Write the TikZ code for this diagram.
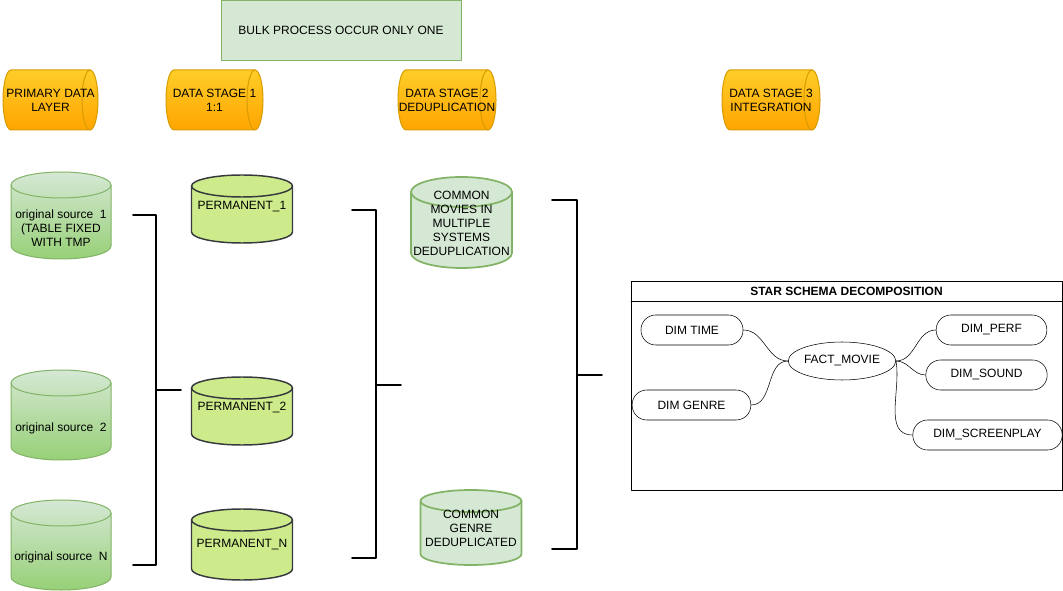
\documentclass[tikz,border=0pt]{standalone}
\usepackage{fontspec}
\setmainfont{Liberation Sans}
\usetikzlibrary{shapes.geometric,positioning}
\definecolor{hdrtop}{HTML}{FFCD28}
\definecolor{hdrbot}{HTML}{FFA500}
\definecolor{hdrline}{HTML}{D79B00}
\definecolor{grnlight}{HTML}{D5E8D4}
\definecolor{grndark}{HTML}{97D077}
\definecolor{grnline}{HTML}{82B366}
\definecolor{limefill}{HTML}{CDEB8B}
\definecolor{darkline}{HTML}{36393D}
% hình trụ đứng: thân, viền, tâm x, đỉnh, đáy, bán trục a, b
\newcommand{\cylv}[7]{%
	\path[#1] (#3-#6,#4+#7) -- (#3-#6,#5-#7) arc[start angle=180,end angle=360,x radius=#6*0.75pt,y radius=#7*0.75pt]
		-- (#3+#6,#4+#7) arc[start angle=0,end angle=180,x radius=#6*0.75pt,y radius=#7*0.75pt] -- cycle;
	\draw[#2] (#3-#6,#4+#7) arc[start angle=180,end angle=360,x radius=#6*0.75pt,y radius=#7*0.75pt];}
% hình trụ nằm: thân, viền, trái, phải, tâm y, bán trục h, rx
\newcommand{\cylh}[7]{%
	\path[#1] (#3+#7,#5-#6) arc[start angle=90,end angle=270,x radius=#7*0.75pt,y radius=#6*0.75pt]
		-- (#4-#7,#5+#6) arc[start angle=270,end angle=450,x radius=#7*0.75pt,y radius=#6*0.75pt] -- cycle;
	\draw[#2] (#4-#7,#5-#6) arc[start angle=90,end angle=270,x radius=#7*0.75pt,y radius=#6*0.75pt];}
\begin{document}
\begin{tikzpicture}[x=0.75pt,y=-0.75pt,line join=round,line cap=round,font=\fontsize{9}{10.5}\selectfont,
	hdrbody/.style={draw=hdrline,line width=0.75pt,top color=hdrtop,bottom color=hdrbot},
	hdredge/.style={draw=hdrline,line width=0.75pt},
	srcbody/.style={draw=grnline,line width=0.75pt,top color=grnlight,bottom color=grndark},
	srcedge/.style={draw=grnline,line width=0.75pt},
	permbody/.style={draw=darkline,line width=1.1pt,fill=limefill},
	permedge/.style={draw=darkline,line width=1.1pt},
	dedupbody/.style={draw=grnline,line width=1.3pt,fill=grnlight},
	dedupedge/.style={draw=grnline,line width=1.3pt},
	lbl/.style={align=center,inner sep=0pt},
	brk/.style={line width=1.3pt},
	pill/.style={draw,rounded corners=11pt,minimum height=22.5pt,inner sep=0pt},
	]
	\useasboundingbox (0,0) rectangle (1063,591);
	% === Tiêu đề ===
	\node[draw=grnline,fill=grnlight,minimum width=180pt,minimum height=45pt] (bulk) at (341,30) {BULK PROCESS OCCUR ONLY ONE};
	\cylh{hdrbody}{hdredge}{3}{98}{100}{30}{8}
	\cylh{hdrbody}{hdredge}{166}{263}{100}{30}{8}
	\cylh{hdrbody}{hdredge}{398}{496}{100}{30}{8}
	\cylh{hdrbody}{hdredge}{722}{820}{100}{30}{8}
	\node[lbl] (pdl) at (50.5,100) {PRIMARY DATA\\LAYER};
	\node[lbl] (ds1) at (214.5,100) {DATA STAGE 1\\1:1};
	\node[lbl] (ds2) at (447,100) {DATA STAGE 2\\DEDUPLICATION};
	\node[lbl] (ds3) at (771,100) {DATA STAGE 3\\INTEGRATION};
	% === Nguồn dữ liệu ===
	\cylv{srcbody}{srcedge}{61}{172}{259}{50}{13}
	\cylv{srcbody}{srcedge}{61}{370}{460}{50}{13}
	\cylv{srcbody}{srcedge}{61}{500}{590}{50}{13}
	\node[lbl] (src1) at (61,228) {original source\ \ 1\\(TABLE FIXED\\WITH TMP};
	\node[lbl] (src2) at (61,428) {original source\ \ 2};
	\node[lbl] (srcn) at (61,557) {original source\ \ N};
	% === Giai đoạn 1 và 2 ===
	\cylv{permbody}{permedge}{242}{175}{243}{50.5}{11}
	\cylv{permbody}{permedge}{242}{377}{445}{50.5}{11}
	\cylv{permbody}{permedge}{242}{509}{580}{50.5}{11}
	\node[lbl] (perm1) at (242,207) {PERMANENT\_1};
	\node[lbl] (perm2) at (242,408) {PERMANENT\_2};
	\node[lbl] (permn) at (242,545) {PERMANENT\_N};
	\cylv{dedupbody}{dedupedge}{461.5}{177}{268}{50.5}{15}
	\cylv{dedupbody}{dedupedge}{471}{490}{565}{50.5}{11}
	\node[lbl] (movies) at (461.5,223) {COMMON\\MOVIES IN\\MULTIPLE\\SYSTEMS\\DEDUPLICATION};
	\node[lbl] (genre) at (471,528) {COMMON\\GENRE\\DEDUPLICATED};
	% === Ngoặc gom nhóm ===
	\foreach \n/\xa/\xv/\xm/\ya/\yb/\ym in {1/133/156/181/215/565/390,2/352/376/401/210/558/385,3/552/577/602/200/549/375}{
		\coordinate (br\n top) at (\xa,\ya);
		\coordinate (br\n bot) at (\xa,\yb);
		\coordinate (br\n spine) at (\xv,\ym);
		\coordinate (br\n mid) at (\xm,\ym);
		\draw[brk] (br\n top) -| (br\n spine) |- (br\n bot);
		\draw[brk] (br\n spine) -- (br\n mid);
	}
	% === Lược đồ hình sao ===
	\node[draw,minimum width=323.25pt,minimum height=156.75pt,anchor=north west,inner sep=0pt] (star) at (631,281) {};
	\draw ([yshift=-15pt]star.north west) -- ([yshift=-15pt]star.north east);
	\node[font=\fontsize{9}{10.5}\selectfont\bfseries] (startitle) at (846.5,291) {STAR SCHEMA DECOMPOSITION};
	\node[draw,ellipse,minimum width=76.5pt,minimum height=28.5pt,inner sep=0pt] (fact) at (842,361) {FACT\_MOVIE};
	\node[pill,minimum width=76.5pt] (dtime) at (692,330) {DIM TIME};
	\node[pill,minimum width=89pt] (dgenre) at (691.5,405) {DIM GENRE};
	\node[pill,minimum width=83pt] (dperf) at (991.5,330) {DIM\_PERF};
	\node[pill,minimum width=91pt] (dsound) at (986.5,375) {DIM\_SOUND};
	\node[pill,minimum width=112pt] (dscreen) at (987.5,435) {DIM\_SCREENPLAY};
	\draw (dtime.east) to[out=0,in=180] (fact.west);
	\draw (dgenre.east) to[out=0,in=180] (fact.west);
	\draw (fact.east) to[out=0,in=180] (dperf.west);
	\draw (fact.east) to[out=0,in=180] (dsound.west);
	\draw (fact.east) to[out=-80,in=180] (dscreen.west);
\end{tikzpicture}
\end{document}
